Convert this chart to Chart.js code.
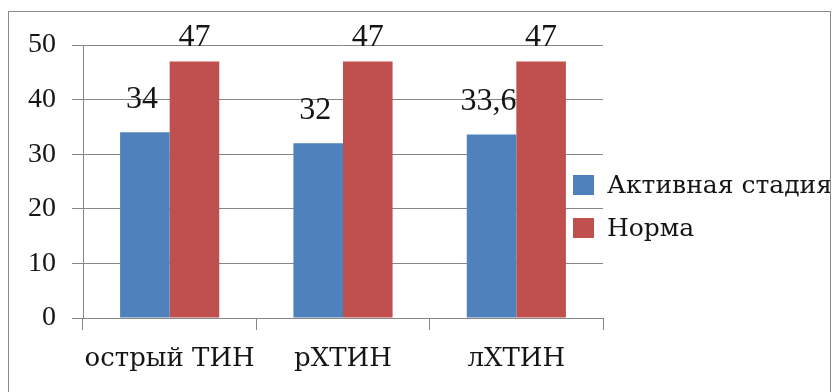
<!DOCTYPE html>
<html>
<head>
<meta charset="utf-8">
<script src="https://cdn.jsdelivr.net/npm/chart.js@4.4.0/dist/chart.umd.min.js"></script>
<style>
    html, body { margin: 0; padding: 0; background: #fff; overflow: hidden; }
    #frame { position: absolute; left: 8px; top: 11px; width: 821px; height: 420px; border: 1px solid #8a8a8a; overflow: hidden; }
    #chart { position: absolute; left: 0; top: 0; }
    #legend { position: absolute; left: 564px; top: 151px; font: 25px "DejaVu Serif"; color: #151515; white-space: nowrap; }
    #legend div { height: 43px; line-height: 43px; }
    #legend span { display: inline-block; width: 21px; height: 20px; margin-right: 13px; vertical-align: -2px; }
</style>
</head>
<body>
<canvas id="chart" width="833" height="392"></canvas>
<div id="frame"><div id="legend"></div></div>
<script>
const categories = ['острый ТИН', 'рХТИН', 'лХТИН'];
const seriesNames = ['Активная стадия', 'Норма'];
const activeStage = [34, 32, 33.6];
const norm = [47, 47, 47];
const yMin = 0;
const yMax = 50;
const yStep = 10;

const seriesColors = ['#4f81bd', '#c0504d'];
const textColor = '#151515';
const lineColor = '#868686';
const numFont = 'Liberation Serif';
const wordFont = 'DejaVu Serif';

// legend to the right of the plot, cut off by the frame edge
const legend = document.getElementById('legend');
seriesNames.forEach((name, i) => {
    const row = document.createElement('div');
    const box = document.createElement('span');
    box.style.background = seriesColors[i];
    row.appendChild(box);
    row.appendChild(document.createTextNode(name));
    legend.appendChild(row);
});

// value labels above bars, comma as decimal separator
const valueLabels = {
    id: 'valueLabels',
    afterDatasetsDraw(chart) {
        const ctx = chart.ctx;
        ctx.save();
        ctx.font = '32px "' + numFont + '"';
        ctx.fillStyle = textColor;
        ctx.textAlign = 'center';
        ctx.textBaseline = 'middle';
        chart.data.datasets.forEach((ds, i) => {
            const meta = chart.getDatasetMeta(i);
            meta.data.forEach((bar, j) => {
                const txt = String(ds.data[j]).replace('.', ',');
                ctx.fillText(txt, bar.x + (ds.labelShift || 0), bar.y - ds.labelOffset);
            });
        });
        ctx.restore();
    }
};

function drawChart() {
    new Chart(document.getElementById('chart'), {
        type: 'bar',
        data: {
            labels: categories,
            datasets: [{
                label: seriesNames[0],
                data: activeStage,
                backgroundColor: seriesColors[0],
                labelOffset: 33,
                labelShift: -3
            }, {
                label: seriesNames[1],
                data: norm,
                backgroundColor: seriesColors[1],
                labelOffset: 24
            }]
        },
        options: {
            responsive: false,
            animation: false,
            datasets: {
                bar: { categoryPercentage: 0.572, barPercentage: 1 }
            },
            layout: { padding: { left: 0, top: 45, right: 230, bottom: 0 } },
            scales: {
                x: {
                    grid: { offset: true, drawOnChartArea: false, tickLength: 12, color: lineColor },
                    border: { color: lineColor },
                    ticks: { color: textColor, font: { family: wordFont, size: 26 }, padding: 14, maxRotation: 0 },
                    afterFit(s) { s.height = 74; s.paddingLeft = 0; s.paddingRight = 0; }
                },
                y: {
                    min: yMin,
                    max: yMax,
                    grid: { tickLength: 11, color: lineColor },
                    border: { color: lineColor },
                    ticks: { stepSize: yStep, color: textColor, font: { family: numFont, size: 28 }, padding: 16 },
                    afterFit(s) { s.width = 83; }
                }
            },
            plugins: {
                legend: { display: false },
                tooltip: { enabled: false }
            }
        },
        plugins: [valueLabels]
    });
}

// draw once the page and its fonts are ready
window.addEventListener('load', () => setTimeout(drawChart, 50));
</script>
</body>
</html>
